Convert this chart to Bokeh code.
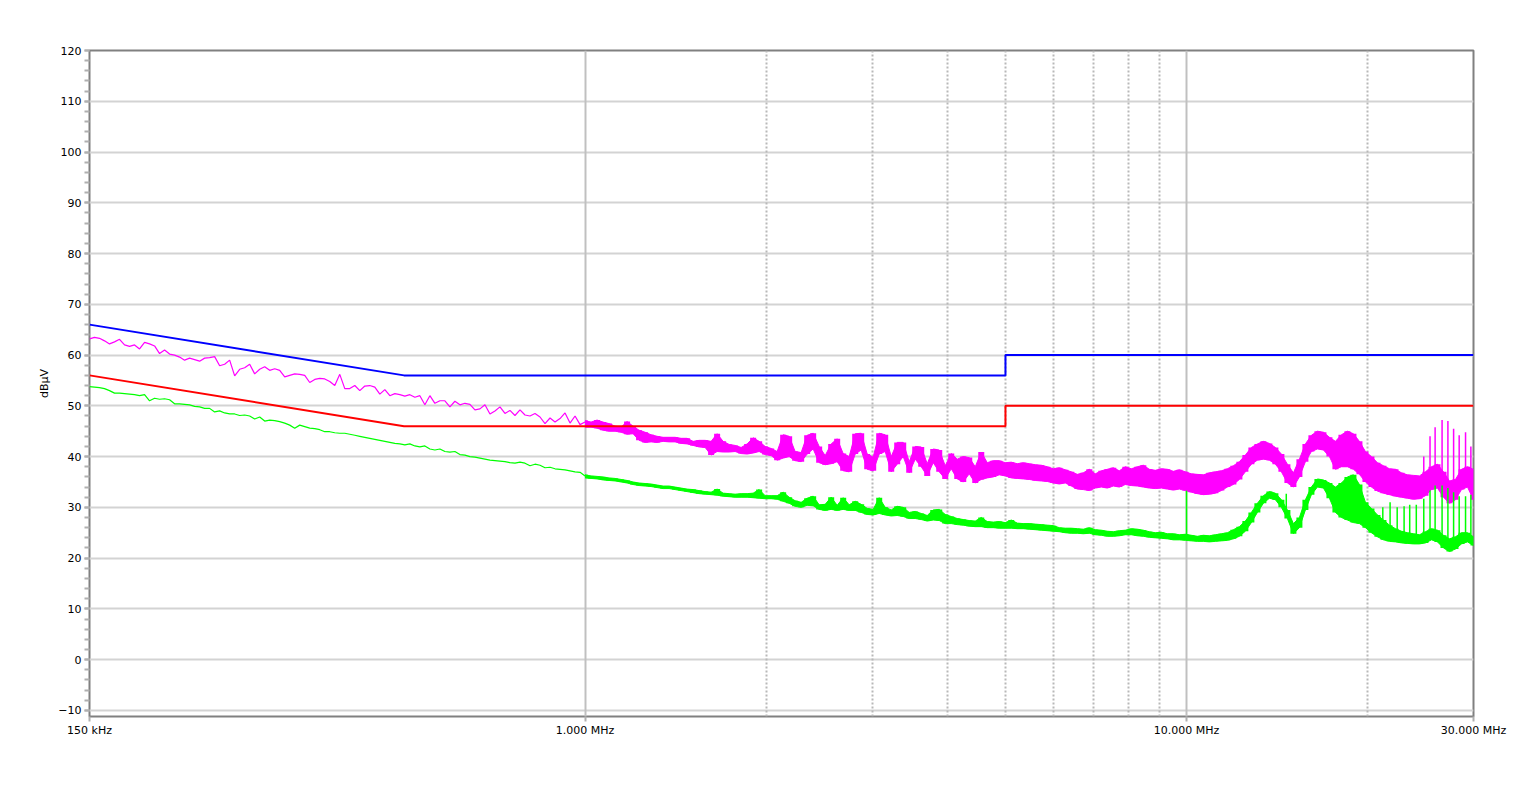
import numpy as np
from bokeh.plotting import figure
from bokeh.models import Range1d, FixedTicker, Grid, CustomJSTickFormatter
from bokeh.embed import file_html
from bokeh.resources import INLINE

# ---------------- data ----------------
# receiver sweep settings (MHz): start, stop, number of points
sweep_a = (0.15, 1.0, 100)
sweep_b = (1.0, 30.0, 149)

limit_f = [0.15, 0.5, 5.0, 5.0, 30.0]
qp_limit = [66, 56, 56, 60, 60]
av_limit = [56, 46, 46, 50, 50]

# peak trace (magenta), 150 kHz .. 1 MHz
pk_a = [63.2, 63.5, 63.3, 62.8, 62.2, 62.6, 63.1, 62.0, 61.7, 62.0,
        61.2, 62.5, 62.2, 61.8, 60.3, 61.0, 60.2, 60.0, 59.6, 59.0,
        59.4, 59.1, 58.8, 59.4, 59.5, 59.7, 57.9, 58.2, 59.0, 55.9,
        57.2, 57.5, 58.2, 56.3, 57.2, 57.7, 57.0, 57.3, 57.0, 55.7,
        56.0, 56.3, 56.2, 56.0, 54.6, 55.2, 55.4, 55.3, 54.8, 54.0,
        56.2, 53.4, 53.4, 54.0, 53.0, 53.9, 54.0, 53.7, 52.3, 53.2,
        52.0, 52.4, 52.2, 51.9, 52.2, 51.7, 52.0, 50.2, 52.0, 50.5,
        51.0, 51.0, 49.8, 50.9, 50.2, 50.5, 50.3, 49.2, 49.4, 50.2,
        48.4, 49.0, 49.8, 48.5, 49.1, 48.1, 49.2, 48.2, 48.0, 48.5,
        47.8, 46.5, 47.6, 46.8, 47.5, 48.6, 46.6, 48.0, 46.3, 46.8]

# average trace (green), 150 kHz .. 1 MHz
av_a = [53.8, 53.7, 53.6, 53.4, 53.0, 52.5, 52.5, 52.4, 52.3, 52.2,
        52.0, 52.2, 51.0, 51.5, 51.3, 51.4, 51.2, 50.4, 50.4, 50.3,
        50.2, 49.9, 49.8, 49.5, 49.5, 48.8, 49.0, 48.6, 48.4, 48.4,
        48.1, 48.2, 48.0, 47.4, 47.8, 47.0, 47.2, 47.1, 46.9, 46.6,
        46.2, 45.6, 46.2, 45.9, 45.6, 45.5, 45.3, 44.9, 44.9, 44.7,
        44.6, 44.6, 44.4, 44.2, 44.0, 43.8, 43.6, 43.4, 43.2, 43.0,
        42.8, 42.6, 42.5, 42.3, 42.5, 42.1, 41.9, 42.1, 41.5, 41.3,
        41.5, 41.0, 40.9, 41.0, 40.4, 40.3, 40.0, 39.9, 39.7, 39.5,
        39.3, 39.2, 39.1, 39.0, 38.8, 38.7, 38.9, 38.7, 38.2, 38.5,
        38.3, 37.8, 37.9, 37.6, 37.5, 37.4, 37.2, 37.0, 36.9, 36.2]

# peak trace 1 .. 30 MHz, lower / upper envelope
pk_b_lo = [45.8, 45.8, 45.6, 45.2, 45.0, 45.0, 44.8, 44.4, 44.5, 43.2,
           42.8, 42.9, 42.8, 43.0, 42.9, 42.9, 42.6, 42.5, 42.2, 41.9,
           41.8, 40.3, 41.0, 40.9, 40.9, 41.0, 40.6, 40.5, 40.7, 41.0,
           40.4, 40.2, 39.3, 39.7, 40.0, 39.2, 39.0, 40.5, 41.5, 38.8,
           38.4, 38.6, 39.0, 37.2, 37.0, 40.5, 41.3, 37.5, 37.2, 40.5,
           41.0, 37.0, 38.5, 40.0, 36.8, 39.5, 38.0, 36.2, 38.8, 37.0,
           35.6, 37.6, 35.6, 35.0, 36.6, 34.8, 35.5, 35.8, 36.0, 36.4,
           36.2, 35.8, 35.7, 35.6, 35.5, 35.3, 35.2, 35.1, 34.8, 34.6,
           34.8, 34.2, 33.6, 33.5, 33.3, 33.8, 34.0, 33.8, 34.2, 34.0,
           34.5, 34.3, 34.2, 34.0, 33.8, 33.7, 33.8, 33.6, 33.4, 33.6,
           33.3, 33.0, 32.7, 32.5, 32.6, 32.8, 33.3, 34.0, 34.5, 35.5,
           37.0, 38.5, 39.3, 39.5, 39.3, 38.5, 37.0, 34.8, 34.0, 36.0,
           39.0, 41.0, 41.5, 41.3, 40.0, 37.5, 38.0, 38.0, 37.5, 36.5,
           35.0, 34.0, 33.2, 32.8, 32.5, 32.2, 32.0, 31.8, 31.6, 31.7,
           32.3, 33.5, 33.8, 32.0, 30.8, 31.5, 33.5, 34.0, 31.5]
pk_b_hi = [47.1, 46.8, 47.2, 46.8, 46.5, 46.0, 45.8, 46.9, 46.0, 45.2,
           44.8, 44.3, 44.0, 43.8, 43.8, 43.8, 43.6, 43.6, 43.0, 43.2,
           43.2, 43.0, 44.5, 43.0, 42.4, 42.2, 41.8, 42.5, 43.7, 43.0,
           42.0, 41.6, 41.0, 44.3, 44.0, 41.0, 40.8, 44.2, 44.6, 42.0,
           40.2, 42.5, 43.5, 40.6, 40.0, 44.5, 44.6, 40.5, 39.9, 44.6,
           44.3, 40.0, 42.8, 42.8, 39.0, 42.0, 41.9, 38.6, 41.5, 41.3,
           38.2, 40.6, 39.5, 40.0, 39.8, 38.0, 40.9, 38.8, 39.2, 39.2,
           38.8, 38.9, 38.6, 38.8, 38.6, 38.4, 38.3, 38.0, 37.6, 37.8,
           37.4, 37.0, 36.5, 36.8, 37.5, 36.6, 37.2, 37.5, 37.8, 37.2,
           38.0, 37.6, 38.0, 38.3, 37.5, 37.3, 37.6, 37.5, 37.1, 37.4,
           37.0, 36.6, 36.5, 36.4, 36.8, 37.0, 37.2, 37.6, 38.2, 39.0,
           40.3, 41.8, 42.5, 43.0, 42.6, 41.8, 40.5, 38.5, 36.8, 39.5,
           42.5, 44.2, 45.0, 44.8, 43.8, 43.0, 44.3, 45.0, 44.5, 43.0,
           41.0, 40.0, 38.8, 38.2, 37.6, 37.5, 36.8, 36.4, 36.3, 36.2,
           37.0, 38.0, 38.5, 37.0, 35.2, 35.5, 37.5, 38.0, 37.5]

# average trace 1 .. 30 MHz, lower / upper envelope
av_b_lo = [35.8, 35.7, 35.6, 35.4, 35.3, 35.2, 35.0, 34.8, 34.5, 34.3,
           34.2, 34.1, 33.9, 33.7, 33.7, 33.5, 33.3, 33.1, 32.9, 32.7,
           32.6, 32.5, 32.4, 32.2, 32.1, 32.0, 32.0, 32.0, 31.9, 31.8,
           31.7, 31.7, 31.6, 31.2, 30.8, 30.2, 30.0, 30.4, 30.3, 29.6,
           29.4, 29.6, 29.4, 29.6, 29.4, 29.4, 29.0, 28.6, 28.5, 28.8,
           28.5, 28.3, 28.4, 28.2, 27.8, 27.8, 27.6, 27.3, 27.5, 27.4,
           26.8, 26.8, 26.6, 26.5, 26.3, 26.2, 26.2, 26.0, 26.0, 25.9,
           25.9, 25.9, 25.8, 25.8, 25.7, 25.6, 25.5, 25.4, 25.3, 25.2,
           25.0, 24.9, 24.9, 24.8, 24.9, 24.6, 24.5, 24.3, 24.3, 24.4,
           24.6, 24.6, 24.4, 24.3, 24.1, 24.0, 23.9, 23.8, 23.6, 23.6,
           23.5, 23.4, 23.3, 23.3, 23.2, 23.3, 23.4, 23.5, 23.8, 24.3,
           25.3, 27.0, 29.0, 30.8, 31.8, 31.5, 30.0, 27.8, 24.8, 26.0,
           29.5, 32.5, 34.0, 33.8, 31.8, 29.0, 28.0, 27.5, 27.0, 26.8,
           26.0, 25.0, 24.2, 23.6, 23.3, 23.2, 23.0, 22.9, 22.8, 22.8,
           23.0, 23.6, 23.2, 22.0, 21.3, 21.8, 22.8, 23.2, 22.5]
av_b_hi = [36.4, 36.2, 36.1, 36.0, 35.8, 35.7, 35.5, 35.3, 35.0, 34.8,
           34.7, 34.6, 34.4, 34.2, 34.2, 34.0, 33.8, 33.6, 33.5, 33.3,
           33.1, 33.0, 33.6, 32.8, 32.7, 32.6, 32.7, 32.7, 32.8, 33.5,
           32.3, 32.3, 32.3, 33.0, 32.0, 31.3, 31.0, 31.8, 32.2, 30.5,
           30.6, 32.0, 30.4, 31.9, 30.5, 31.2, 30.6, 29.8, 29.6, 31.9,
           30.0, 29.5, 30.2, 30.0, 29.0, 29.2, 28.8, 28.4, 29.5, 29.6,
           28.6, 28.2, 27.8, 27.6, 27.4, 27.3, 28.0, 27.2, 27.1, 27.2,
           27.0, 27.5, 26.9, 26.8, 26.8, 26.7, 26.6, 26.5, 26.4, 26.0,
           25.9, 25.9, 25.8, 25.7, 26.0, 25.6, 25.5, 25.3, 25.2, 25.4,
           25.5, 25.8, 25.7, 25.5, 25.2, 25.0, 25.1, 24.8, 24.8, 24.6,
           24.7, 24.5, 24.3, 24.5, 24.4, 24.6, 24.8, 25.0, 25.6, 26.2,
           27.3, 29.0, 30.8, 32.3, 33.1, 32.8, 31.5, 29.5, 26.8, 28.0,
           31.5, 34.0, 35.6, 35.4, 34.8, 34.0, 34.8, 36.0, 36.4, 34.5,
           31.0, 29.8, 28.5, 27.5, 26.5, 25.8, 25.3, 25.0, 24.8, 24.6,
           25.2, 25.8, 25.5, 24.5, 23.8, 24.2, 25.0, 25.0, 24.2]

# narrow-band spikes
av_spk_f = [10.0, 14.65, 21.2, 21.8, 22.4, 23.0, 23.5, 24.1, 24.8, 25.4,
            25.9, 26.6, 27.2, 27.8, 28.4, 29.1, 29.7]
av_spk_top = [33.3, 32.7, 30.0, 31.0, 30.0, 30.2, 30.5, 30.5, 31.7, 33.3,
              34.3, 34.3, 33.8, 33.0, 32.2, 32.2, 32.5]
av_spk_base = [24.0, 28.0, 25.0, 25.0, 24.5, 24.5, 24.5, 24.5, 24.5, 25.0,
               25.0, 24.0, 23.5, 23.5, 24.0, 24.5, 24.5]
pk_spk_f = [24.8, 25.4, 25.9, 26.6, 27.2, 27.8, 28.4, 29.1, 29.7]
pk_spk_top = [40.0, 44.0, 45.8, 47.2, 47.0, 45.5, 44.2, 44.8, 42.0]
pk_spk_base = [36.0, 36.0, 36.0, 35.0, 34.0, 34.0, 35.0, 36.0, 36.0]

x_ticks = [0.15, 1.0, 10.0, 30.0]
x_tick_labels = ["150 kHz", "1.000 MHz", "10.000 MHz", "30.000 MHz"]
x_grid_solid = [1.0, 10.0]
x_grid_dotted = [2, 3, 4, 5, 6, 7, 8, 9, 20]
y_ticks = [-10, 0, 10, 20, 30, 40, 50, 60, 70, 80, 90, 100, 110, 120]
y_minor = [v for v in range(-10, 121, 2)]

f_a = np.geomspace(*sweep_a)
f_b = np.geomspace(*sweep_b)

FONT = "DejaVu Sans"
MAG = "#FF00FF"
GRN = "#00FF00"

p = figure(width=1516, height=779, x_axis_type="log",
           x_range=Range1d(0.15, 30.0), y_range=Range1d(-11.2, 120.0),
           output_backend="svg", toolbar_location=None,
           min_border_left=89, min_border_top=50,
           min_border_right=43, min_border_bottom=63)
p.background_fill_color = "white"
p.border_fill_color = "white"
p.outline_line_color = "#808080"
p.outline_line_width = 2

# grids
p.xgrid.visible = False
p.ygrid.ticker = FixedTicker(ticks=y_ticks)
p.ygrid.grid_line_color = "#d3d3d3"
p.ygrid.grid_line_width = 2
g1 = Grid(dimension=0, ticker=FixedTicker(ticks=x_grid_solid),
          grid_line_color="#c0c0c0", grid_line_width=2)
g2 = Grid(dimension=0, ticker=FixedTicker(ticks=x_grid_dotted),
          grid_line_color="#b8b8b8", grid_line_width=2, grid_line_dash="2 2")
p.add_layout(g1)
p.add_layout(g2)

# axes
p.xaxis.ticker = FixedTicker(ticks=x_ticks, minor_ticks=[])
p.xaxis.formatter = CustomJSTickFormatter(
    args=dict(t=x_ticks, l=x_tick_labels),
    code="""
    for (let i = 0; i < t.length; i++) {
        if (Math.abs(Math.log10(t[i]) - Math.log10(tick)) < 1e-6) return l[i];
    }
    return '';
    """)
p.xaxis.axis_line_color = None
p.xaxis.major_tick_line_color = "#b0b0b0"
p.xaxis.major_tick_line_width = 2
p.xaxis.major_tick_out = 5
p.xaxis.major_tick_in = 0
p.xaxis.major_label_standoff = 2

p.yaxis.ticker = FixedTicker(ticks=y_ticks, minor_ticks=y_minor)
p.yaxis.axis_line_color = None
p.yaxis.major_tick_line_color = "#b0b0b0"
p.yaxis.minor_tick_line_color = "#b0b0b0"
p.yaxis.major_tick_line_width = 2
p.yaxis.minor_tick_line_width = 2
p.yaxis.major_tick_out = 5
p.yaxis.minor_tick_out = 5
p.yaxis.major_tick_in = 0
p.yaxis.minor_tick_in = 0
p.yaxis.major_label_standoff = 3
p.yaxis.axis_label = "dBµV"
p.yaxis.axis_label_standoff = 4
p.yaxis.axis_label_text_font = FONT
p.yaxis.axis_label_text_font_size = "11px"
p.yaxis.axis_label_text_font_style = "normal"
p.yaxis.axis_label_text_color = "#000000"

for ax in (p.xaxis, p.yaxis):
    ax.major_label_text_font = FONT
    ax.major_label_text_font_size = "11px"
    ax.major_label_text_color = "#000000"

# traces: peak (magenta)
p.line(f_a, pk_a, line_color=MAG, line_width=1.2)
p.varea(x=f_b, y1=pk_b_lo, y2=pk_b_hi, fill_color=MAG)
p.varea_step(x=f_b, y1=pk_b_lo, y2=pk_b_hi, step_mode="center", fill_color=MAG)
p.line(f_b, pk_b_lo, line_color=MAG, line_width=1)
p.line(f_b, pk_b_hi, line_color=MAG, line_width=1)
p.segment(x0=pk_spk_f, y0=pk_spk_base, x1=pk_spk_f, y1=pk_spk_top,
          line_color=MAG, line_width=1.5)

# traces: average (green)
p.line(f_a, av_a, line_color=GRN, line_width=1.2)
p.varea(x=f_b, y1=av_b_lo, y2=av_b_hi, fill_color=GRN)
p.varea_step(x=f_b, y1=av_b_lo, y2=av_b_hi, step_mode="center", fill_color=GRN)
p.line(f_b, av_b_lo, line_color=GRN, line_width=1)
p.line(f_b, av_b_hi, line_color=GRN, line_width=1)
p.segment(x0=av_spk_f, y0=av_spk_base, x1=av_spk_f, y1=av_spk_top,
          line_color=GRN, line_width=1.5)

# limit lines
p.line(limit_f, qp_limit, line_color="#0000FF", line_width=2)
p.line(limit_f, av_limit, line_color="#FF0000", line_width=2)

open("out.html", "w").write(file_html(p, INLINE))
